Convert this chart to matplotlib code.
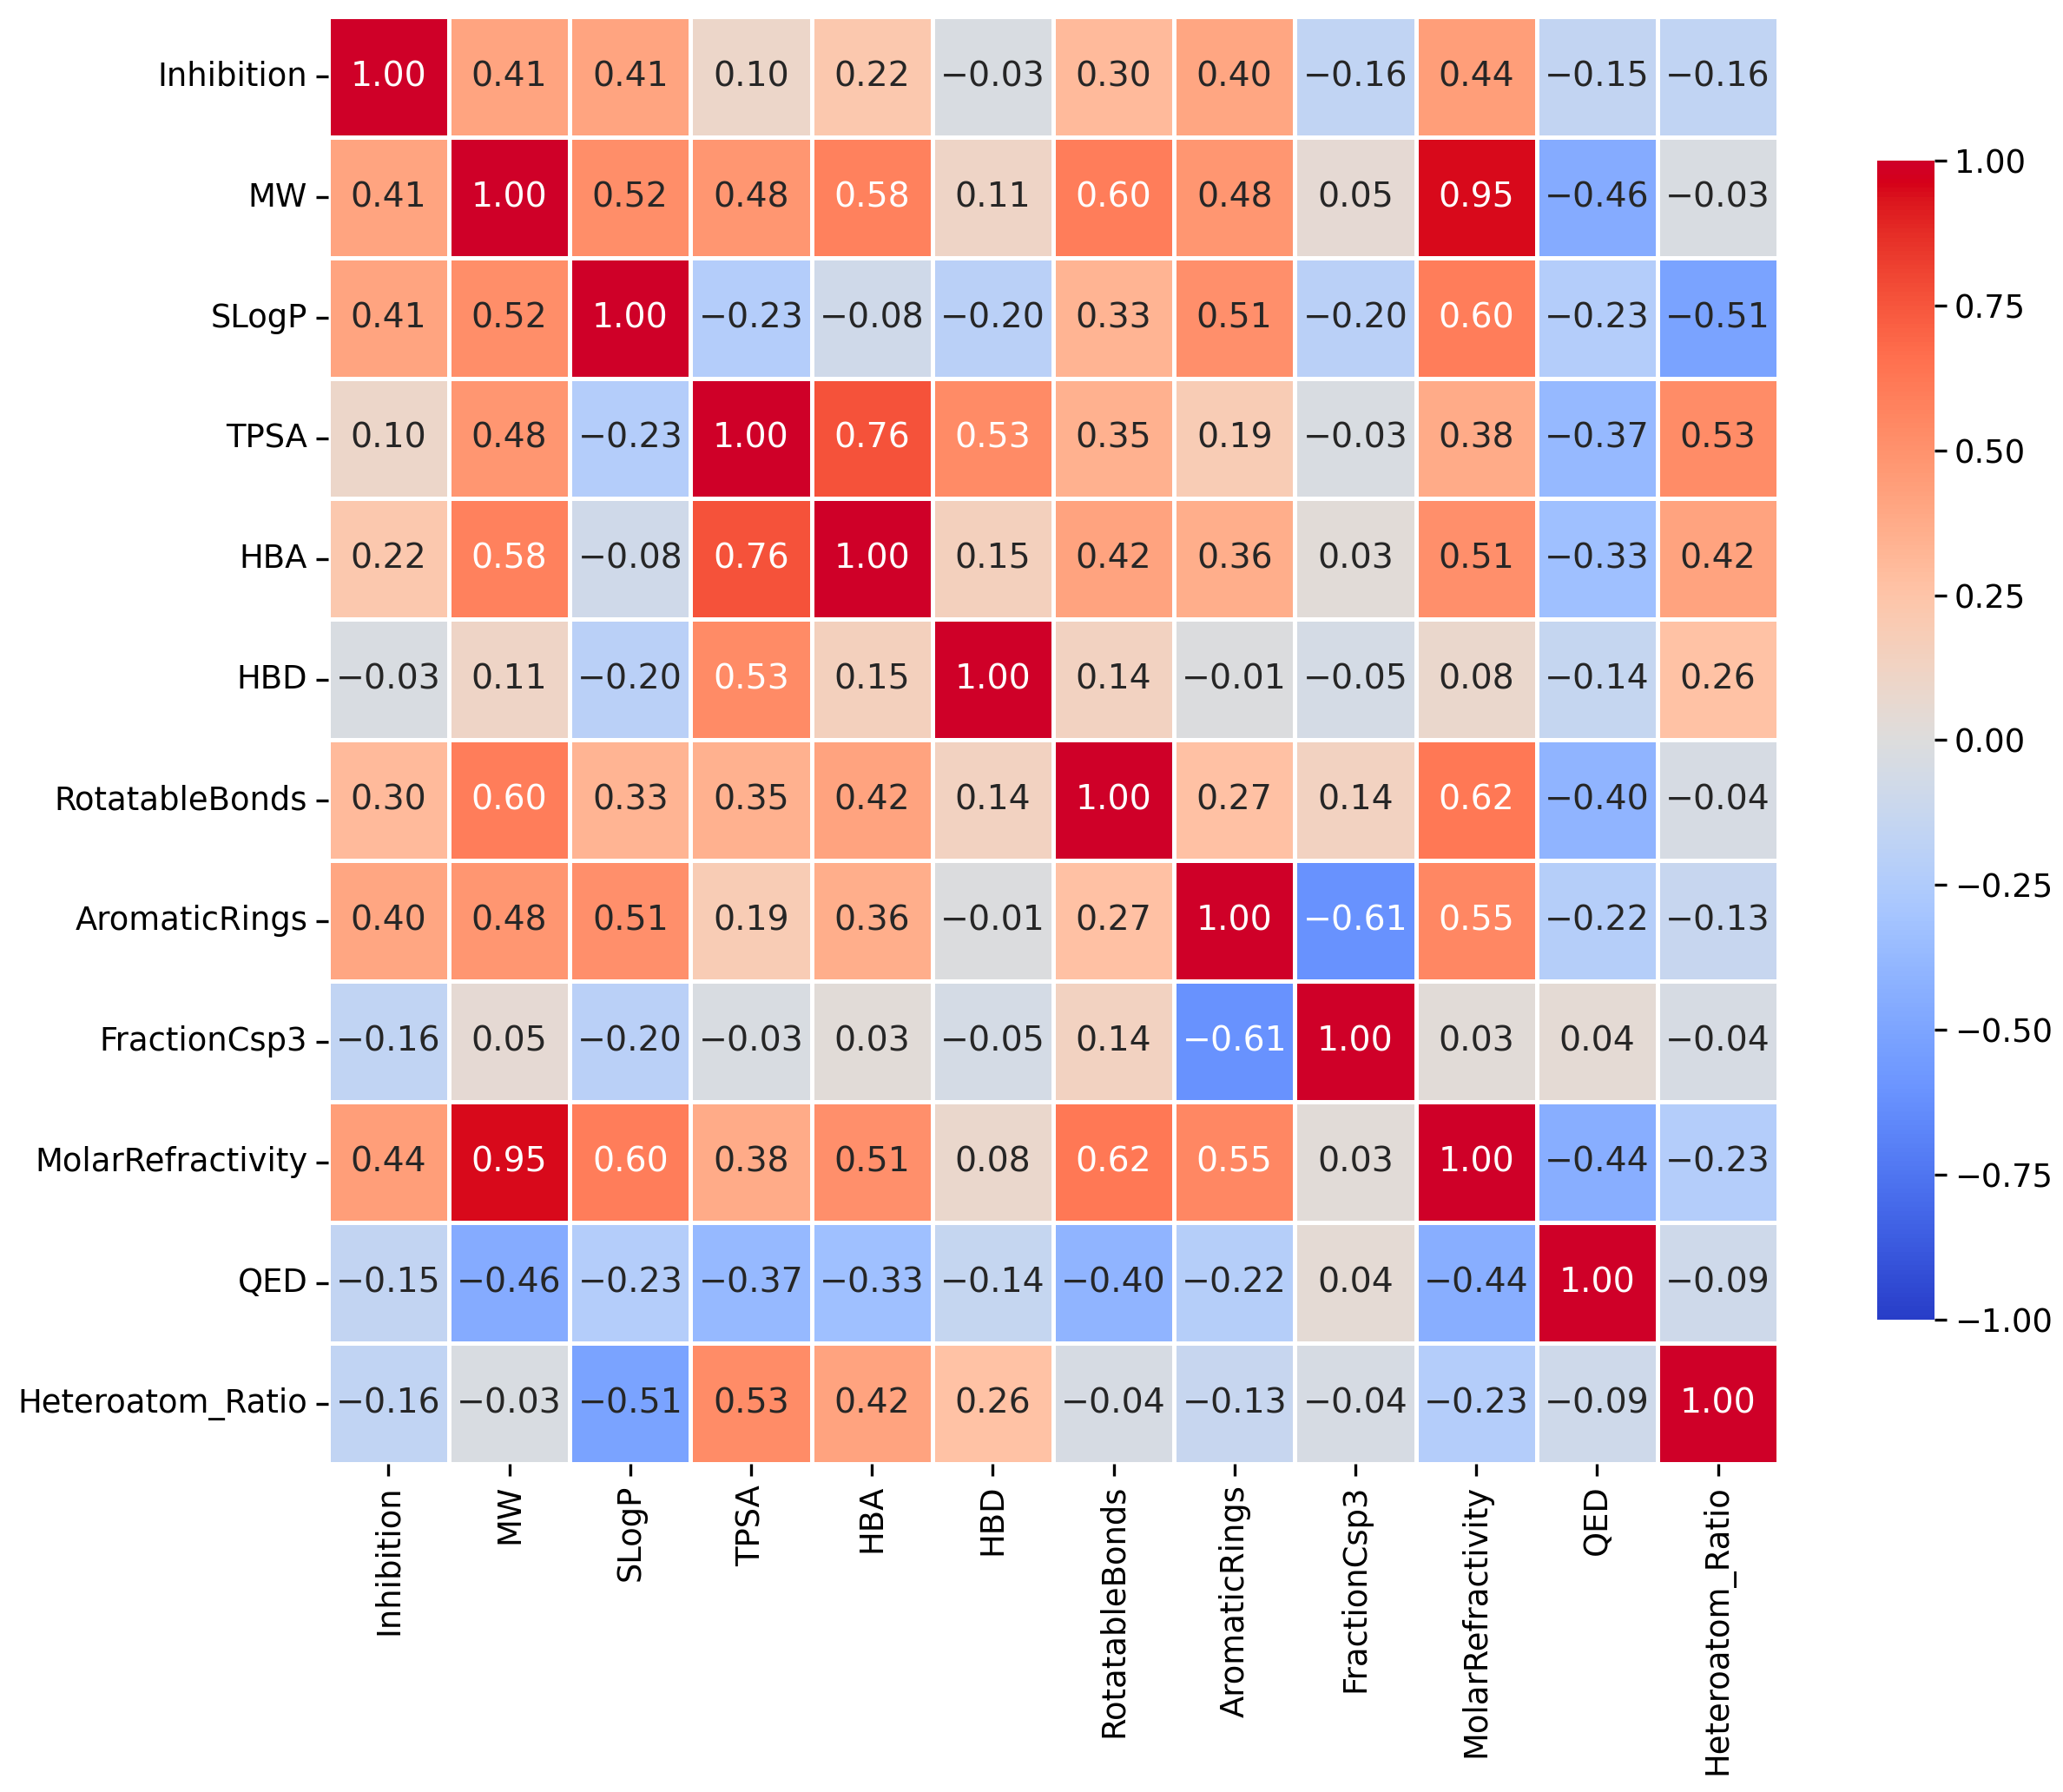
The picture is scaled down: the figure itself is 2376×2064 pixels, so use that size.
import numpy as np
import pandas as pd
import matplotlib
matplotlib.use("Agg")
import matplotlib.pyplot as plt
from matplotlib.colors import ListedColormap, rgb_to_hsv, hsv_to_rgb
import seaborn as sns

features = ["Inhibition", "MW", "SLogP", "TPSA", "HBA", "HBD", "RotatableBonds",
            "AromaticRings", "FractionCsp3", "MolarRefractivity", "QED", "Heteroatom_Ratio"]

# correlation values (row by row)
inhibition = [1.00, 0.41, 0.41, 0.10, 0.22, -0.03, 0.30, 0.40, -0.16, 0.44, -0.15, -0.16]
mw = [0.41, 1.00, 0.52, 0.48, 0.58, 0.11, 0.60, 0.48, 0.05, 0.95, -0.46, -0.03]
slogp = [0.41, 0.52, 1.00, -0.23, -0.08, -0.20, 0.33, 0.51, -0.20, 0.60, -0.23, -0.51]
tpsa = [0.10, 0.48, -0.23, 1.00, 0.76, 0.534, 0.35, 0.19, -0.03, 0.38, -0.37, 0.526]
hba = [0.22, 0.58, -0.08, 0.76, 1.00, 0.15, 0.42, 0.36, 0.03, 0.51, -0.33, 0.42]
hbd = [-0.03, 0.11, -0.20, 0.534, 0.15, 1.00, 0.14, -0.01, -0.05, 0.08, -0.14, 0.26]
rotatable = [0.30, 0.60, 0.33, 0.35, 0.42, 0.14, 1.00, 0.27, 0.14, 0.62, -0.40, -0.04]
aromatic = [0.40, 0.48, 0.51, 0.19, 0.36, -0.01, 0.27, 1.00, -0.61, 0.55, -0.22, -0.13]
fcsp3 = [-0.16, 0.05, -0.20, -0.03, 0.03, -0.05, 0.14, -0.61, 1.00, 0.03, 0.04, -0.04]
molar_ref = [0.44, 0.95, 0.60, 0.38, 0.51, 0.08, 0.62, 0.55, 0.03, 1.00, -0.44, -0.23]
qed = [-0.15, -0.46, -0.23, -0.37, -0.33, -0.14, -0.40, -0.22, 0.04, -0.44, 1.00, -0.09]
hetero_ratio = [-0.16, -0.03, -0.51, 0.526, 0.42, 0.26, -0.04, -0.13, -0.04, -0.23, -0.09, 1.00]

corr = pd.DataFrame([inhibition, mw, slogp, tpsa, hba, hbd, rotatable, aromatic,
                     fcsp3, molar_ref, qed, hetero_ratio], index=features, columns=features)

# the reference looks like coolwarm, a bit punchier
base = plt.get_cmap("coolwarm")(np.linspace(0, 1, 256))[:, :3]
hsv = rgb_to_hsv(base)
s = np.linspace(-1, 1, 256)
hsv[:, 1] = np.clip(hsv[:, 1] * 1.15, 0, 1)
hsv[:, 2] = np.clip(hsv[:, 2] * (1 + np.where(s > 0, 0.15, 0.04) * np.abs(s)), 0, 1)
cmap = ListedColormap(hsv_to_rgb(hsv))

labels = corr.map(lambda v: f"{v:.2f}".replace("-", "\u2212"))

fig = plt.figure(figsize=(11.88, 10.32), dpi=200)
ax = fig.add_axes([0.159, 0.183, 0.703, 0.808])
cax = fig.add_axes([0.910, 0.2636, 0.0275, 0.6468])

sns.heatmap(corr, ax=ax, cbar_ax=cax, cmap=cmap, vmin=-1, vmax=1,
            annot=labels.values, fmt="", linewidths=1.2, linecolor="white",
            annot_kws={"size": 14.2})

# white text on the strong cells, dark elsewhere
for txt, v in zip(ax.texts, corr.values.ravel()):
    txt.set_color("white" if abs(v) > 0.53 else "#262626")

ax.tick_params(axis="both", labelsize=13.3, length=5, width=1.2)
ax.set_xticklabels(features, rotation=90)
ax.set_yticklabels(features, rotation=0)
cax.tick_params(labelsize=13.3, length=5, width=1.2)
cax.set_yticks([-1, -0.75, -0.5, -0.25, 0, 0.25, 0.5, 0.75, 1])
cax.set_yticklabels(["\u22121.00", "\u22120.75", "\u22120.50", "\u22120.25", "0.00",
                     "0.25", "0.50", "0.75", "1.00"])

fig.savefig("out.png", dpi=200)
